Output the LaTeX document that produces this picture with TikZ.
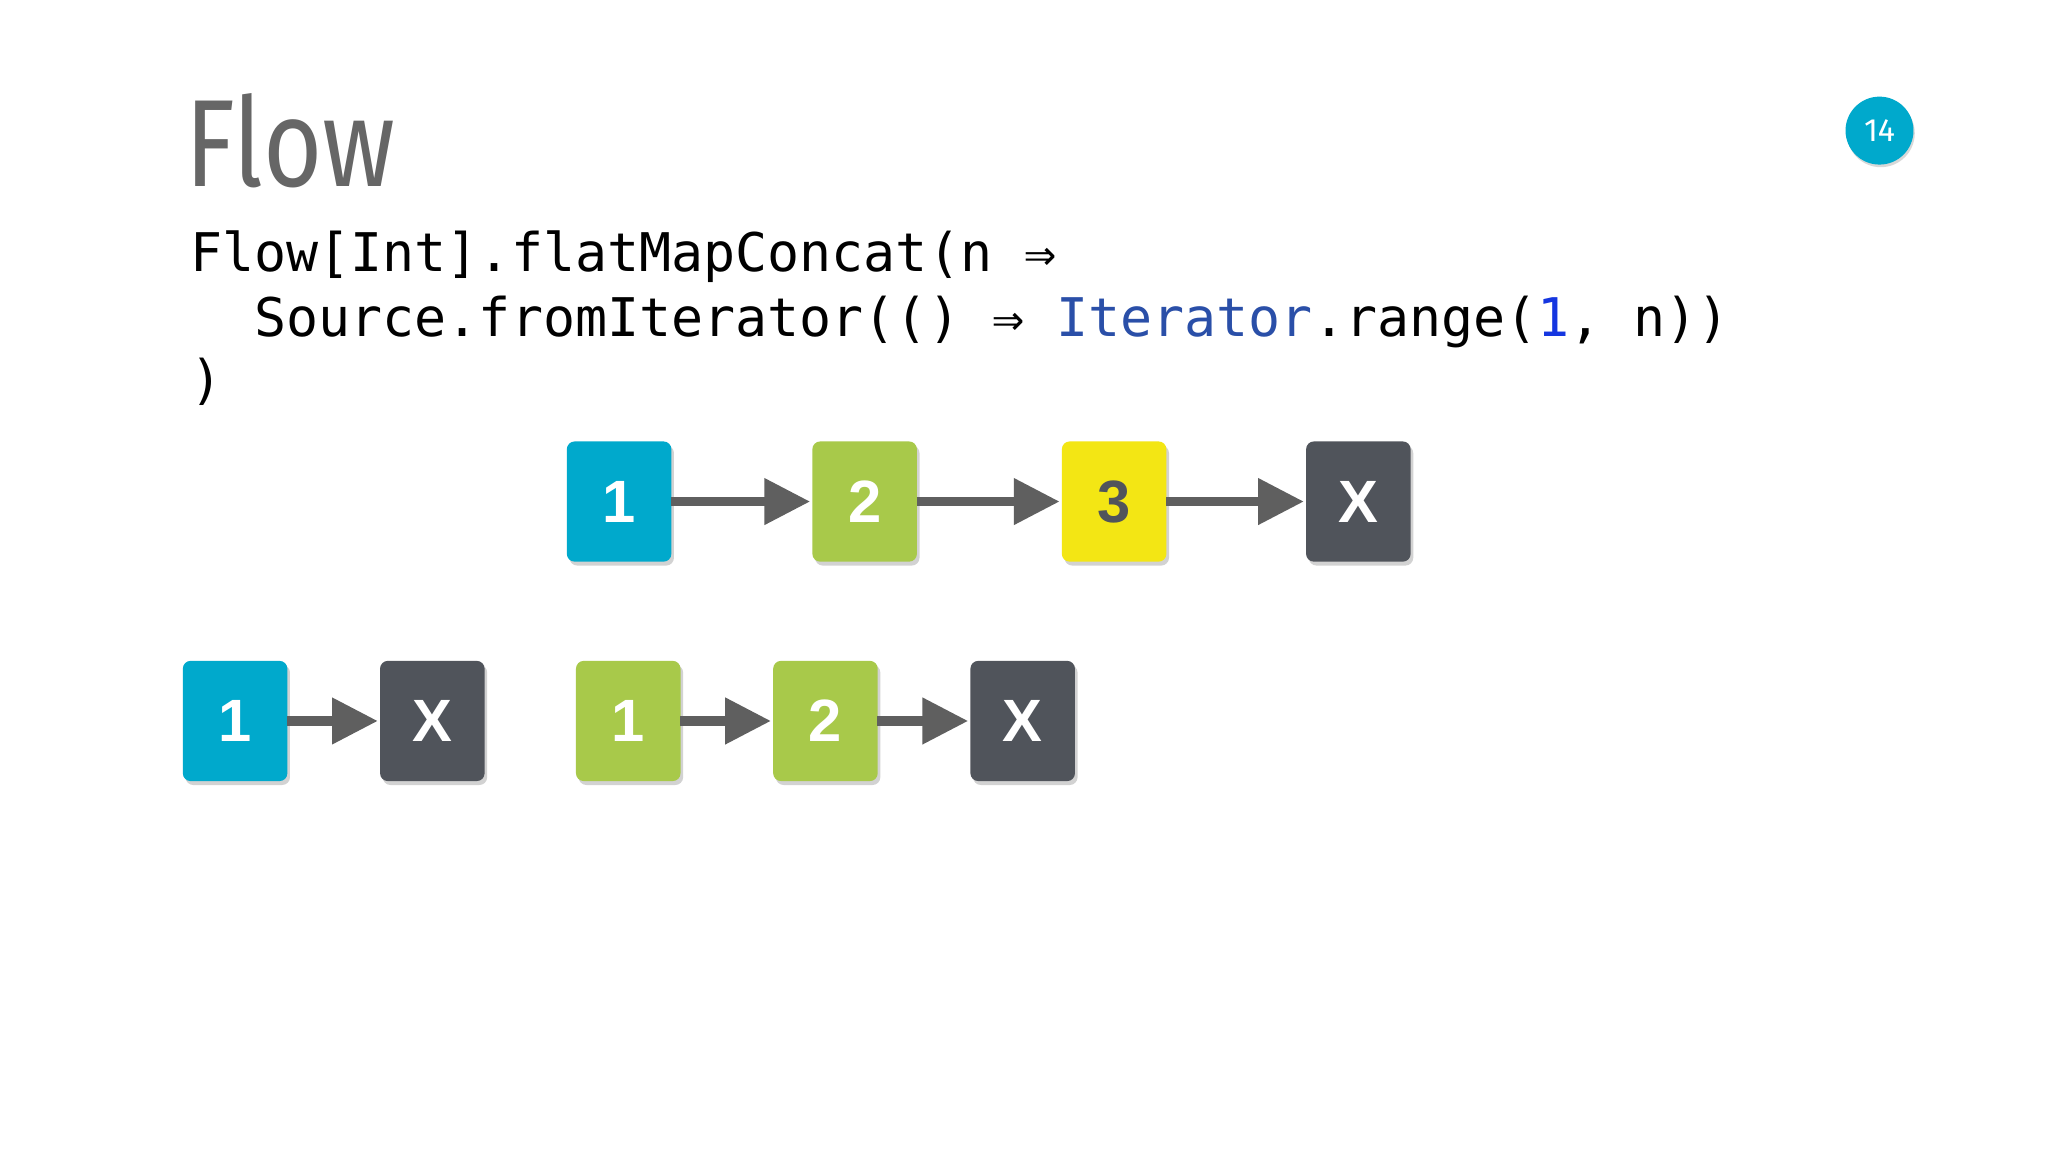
\documentclass[tikz,border=0pt]{standalone}
\usepackage{fontspec}
\setmainfont{Fira Sans}
\newfontfamily\codefont{DejaVu Sans Mono}
\newfontfamily\boxfont{Liberation Sans}
\usetikzlibrary{arrows.meta,shadows}
\definecolor{cyanb}{HTML}{00A9CC}
\definecolor{greenb}{HTML}{A8C94A}
\definecolor{yellowb}{HTML}{F3E614}
\definecolor{darkb}{HTML}{50545B}
\definecolor{arrowc}{HTML}{5F5F5F}
\definecolor{titlec}{HTML}{666666}
\definecolor{itblue}{HTML}{2A4FA8}
\definecolor{numblue}{HTML}{1536E0}
\tikzset{
  sq/.style={rounded corners=0.06cm, minimum width=0.8cm, minimum height=0.92cm, inner sep=0pt,
    text=white, font=\boxfont\bfseries\fontsize{13}{13}\selectfont,
    drop shadow={shadow xshift=0.02cm, shadow yshift=-0.03cm, opacity=0.35}},
  flowarrow/.style={draw=arrowc, line width=0.07cm, -{Triangle[length=0.35cm, width=0.34cm]}, shorten <=-0.01cm, shorten >=0.01cm},
  codeline/.style={anchor=base west, inner sep=0pt, font=\codefont\fontsize{11.6}{12}\selectfont}
}
\begin{document}
\begin{tikzpicture}[x=0.01cm,y=-0.01cm]
\useasboundingbox[fill=white] (0,0) rectangle (1568,882);
\node[anchor=base west, inner sep=0pt, text=titlec, font=\fontsize{27}{27}\selectfont\addfontfeature{FakeStretch=0.82}] (title) at (141,143) {Flow};
\node[circle, fill=cyanb, minimum size=0.52cm, inner sep=0pt, text=white, font=\fontsize{7}{7}\selectfont,
  drop shadow={shadow xshift=0.01cm, shadow yshift=-0.02cm, opacity=0.3}] (badge) at (1439,100) {14};
\node[codeline] (c1) at (145,208) {Flow[Int].flatMapConcat(n ⇒};
\node[codeline] (c2) at (145,258) {\ \ Source.fromIterator(() ⇒ \textcolor{itblue}{Iterator}.range(\textcolor{numblue}{1}, n))};
\node[codeline] (c3) at (145,305) {)};
% top row
\node[sq, fill=cyanb] (a1) at (474,384) {1};
\node[sq, fill=greenb] (a2) at (662,384) {2};
\node[sq, fill=yellowb, text=darkb] (a3) at (853,384) {3};
\node[sq, fill=darkb] (a4) at (1040,384) {X};
\draw[flowarrow] (a1) -- (a2);
\draw[flowarrow] (a2) -- (a3);
\draw[flowarrow] (a3) -- (a4);
% bottom left
\node[sq, fill=cyanb] (b1) at (180,552) {1};
\node[sq, fill=darkb] (b2) at (331,552) {X};
\draw[flowarrow] (b1) -- (b2);
% bottom right
\node[sq, fill=greenb] (d1) at (481,552) {1};
\node[sq, fill=greenb] (d2) at (632,552) {2};
\node[sq, fill=darkb] (d3) at (783,552) {X};
\draw[flowarrow] (d1) -- (d2);
\draw[flowarrow] (d2) -- (d3);
\end{tikzpicture}
\end{document}
